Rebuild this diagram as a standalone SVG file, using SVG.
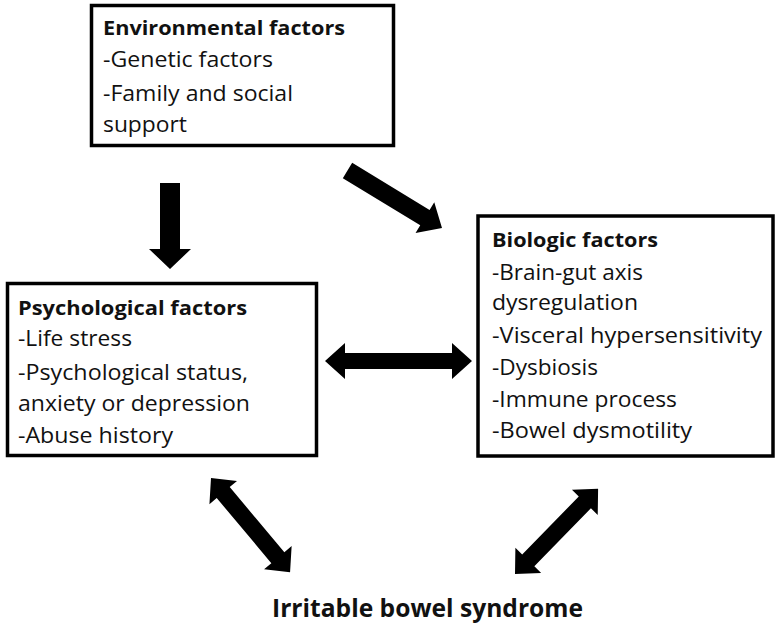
<svg xmlns="http://www.w3.org/2000/svg" width="784" height="628" viewBox="0 0 784 628">
<style>
.box{fill:#fff;stroke:#000;stroke-width:3.5}
.t{font-family:"Open Sans","Noto Sans",sans-serif;font-size:21px;fill:#111}
.h{font-weight:bold;font-size:20px}
.ibs{font-family:"Open Sans","Noto Sans",sans-serif;font-size:25px;font-weight:bold;fill:#111}
.arr{fill:#000}
</style>
<rect width="784" height="628" fill="#fff"/>
<g id="environmental">
<rect class="box" x="91.5" y="5.5" width="302" height="140"/>
<text class="t h" x="103" y="35" textLength="242" lengthAdjust="spacingAndGlyphs">Environmental factors</text>
<text class="t" x="103" y="67" textLength="170" lengthAdjust="spacingAndGlyphs">-Genetic factors</text>
<text class="t" x="103" y="101" textLength="190" lengthAdjust="spacingAndGlyphs">-Family and social</text>
<text class="t" x="103" y="132" textLength="84" lengthAdjust="spacingAndGlyphs">support</text>
</g>
<g id="psychological">
<rect class="box" x="7.5" y="283.5" width="309" height="172"/>
<text class="t h" x="18" y="315" textLength="229" lengthAdjust="spacingAndGlyphs">Psychological factors</text>
<text class="t" x="18" y="346" textLength="114" lengthAdjust="spacingAndGlyphs">-Life stress</text>
<text class="t" x="18" y="380" textLength="230" lengthAdjust="spacingAndGlyphs">-Psychological status,</text>
<text class="t" x="18" y="411" textLength="232" lengthAdjust="spacingAndGlyphs">anxiety or depression</text>
<text class="t" x="18" y="443" textLength="155" lengthAdjust="spacingAndGlyphs">-Abuse history</text>
</g>
<g id="biologic">
<rect class="box" x="478" y="216" width="295" height="240"/>
<text class="t h" x="492" y="247" textLength="166" lengthAdjust="spacingAndGlyphs">Biologic factors</text>
<text class="t" x="492" y="280" textLength="151" lengthAdjust="spacingAndGlyphs">-Brain-gut axis</text>
<text class="t" x="492" y="310" textLength="146" lengthAdjust="spacingAndGlyphs">dysregulation</text>
<text class="t" x="492" y="343" textLength="270" lengthAdjust="spacingAndGlyphs">-Visceral hypersensitivity</text>
<text class="t" x="492" y="375" textLength="106" lengthAdjust="spacingAndGlyphs">-Dysbiosis</text>
<text class="t" x="492" y="407" textLength="185" lengthAdjust="spacingAndGlyphs">-Immune process</text>
<text class="t" x="492" y="438" textLength="200" lengthAdjust="spacingAndGlyphs">-Bowel dysmotility</text>
</g>
<g id="ibs">
<text class="ibs" x="272" y="617" textLength="311" lengthAdjust="spacingAndGlyphs">Irritable bowel syndrome</text>
</g>
<g id="connectors">
<path class="arr" d="M160,183 H180 V249 H191 L170,269 L149,249 H160 Z"/>
<path class="arr" transform="translate(347.5,170.5) rotate(31.3)" d="M0,-9 H90.6 V-18 L110.6,0 L90.6,18 V9 H0 Z"/>
<path class="arr" transform="translate(325,361)" d="M0,0 L20,-18 V-8 H127 V-18 L147,0 L127,18 V8 H20 V18 Z"/>
<path class="arr" transform="translate(211,478) rotate(50)" d="M0,0 L19,-18 V-8.5 H104 V-18 L123,0 L104,18 V8.5 H19 V18 Z"/>
<path class="arr" transform="translate(515,574) rotate(-45.7)" d="M0,0 L19,-18 V-8.5 H100 V-18 L119,0 L100,18 V8.5 H19 V18 Z"/>
</g>
</svg>
